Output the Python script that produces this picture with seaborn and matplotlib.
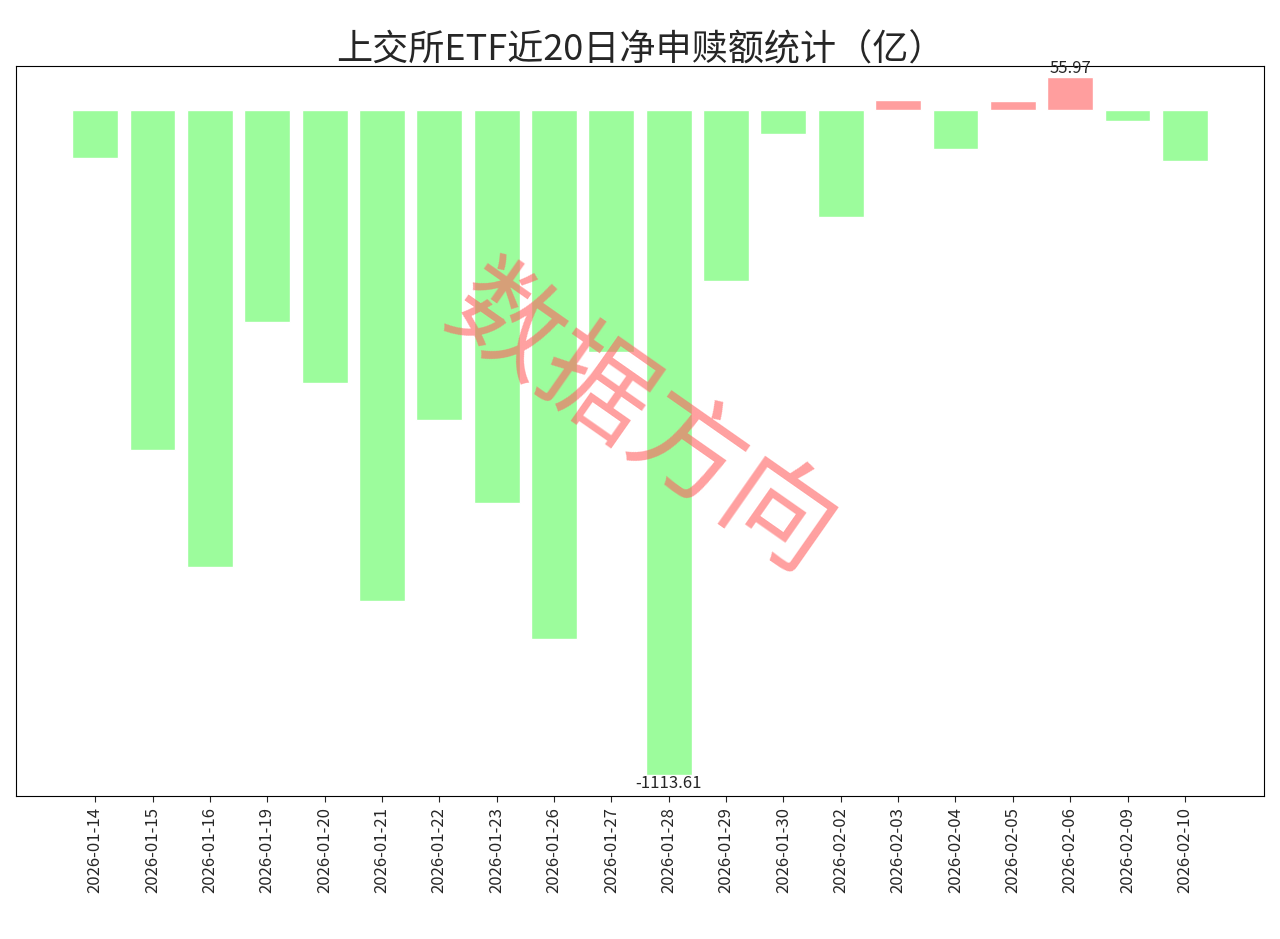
import pandas as pd
import seaborn as sns
import matplotlib.pyplot as plt

dates = ["2026-01-14", "2026-01-15", "2026-01-16", "2026-01-19", "2026-01-20",
         "2026-01-21", "2026-01-22", "2026-01-23", "2026-01-26", "2026-01-27",
         "2026-01-28", "2026-01-29", "2026-01-30", "2026-02-02", "2026-02-03",
         "2026-02-04", "2026-02-05", "2026-02-06", "2026-02-09", "2026-02-10"]
values = [-80, -569, -765, -355, -457, -821, -519, -658, -886, -405,
          -1113.61, -286, -40, -178, 17, -64, 16, 55.97, -17, -85]

sns.set_style("white")
plt.rcParams['font.family'] = ['Noto Sans CJK SC', 'DejaVu Sans']
plt.rcParams['axes.unicode_minus'] = False

df = pd.DataFrame({"date": dates, "value": values})
df["sign"] = ["pos" if v > 0 else "neg" for v in values]

fig, ax = plt.subplots(figsize=(12.8, 9.39), dpi=100)
fig.subplots_adjust(left=0.0125, right=0.9875, top=0.93, bottom=0.152)
sns.barplot(data=df, x="date", y="value", hue="sign",
            palette={"pos": "#ff9e9e", "neg": "#9cfc9c"}, saturation=1,
            width=0.8, dodge=False, legend=False, ax=ax)

ax.set_xlim(-1.38, 20.38)
ax.set_ylim(-1149, 75)
ax.set_yticks([])
ax.set_xlabel("")
ax.set_ylabel("")
ax.tick_params(axis="x", rotation=90, labelsize=12, length=4, bottom=True)
for s in ax.spines.values():
    s.set_color("black")

imax = values.index(max(values))
imin = values.index(min(values))
ax.text(imax, values[imax], f"{values[imax]:.2f}", ha="center", va="bottom", fontsize=12)
ax.text(imin, values[imin], f"{values[imin]:.2f}", ha="center", va="top", fontsize=12)

ax.set_title("上交所ETF近20日净申赎额统计（亿）", fontsize=26, pad=4)

fig.text(0.5, 0.55, "数据方向", fontsize=80, color="#ff6060", alpha=0.6,
         rotation=-35, ha="center", va="center")

fig.savefig("out.png", dpi=100)
